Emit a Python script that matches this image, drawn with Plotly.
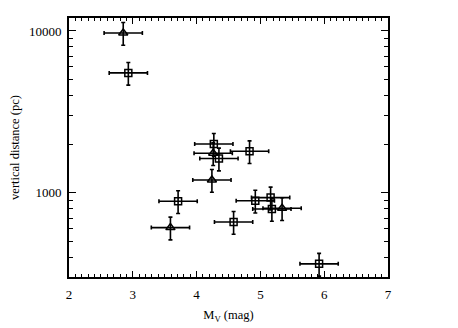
import plotly.graph_objects as go

# squares
sq_mv = [2.93, 4.27, 4.35, 4.83, 4.92, 5.16, 5.18, 4.58, 5.92, 3.71]
sq_z = [5510, 2005, 1630, 1808, 895, 936, 796, 662, 365, 889]

# triangles
tr_mv = [2.85, 4.24, 3.59, 4.26, 5.34]
tr_z = [9720, 1202, 611, 1757, 805]

mv_err = 0.3
z_err_pct = 16

y_ticks = [1000, 10000]
y_minor = [400, 500, 600, 700, 800, 900, 2000, 3000, 4000, 5000, 6000, 7000, 8000, 9000]

ebx = dict(type="constant", value=mv_err, color="black", thickness=1.6, width=2)
eby = dict(type="percent", value=z_err_pct, color="black", thickness=1.6, width=2)

fig = go.Figure()
fig.add_trace(go.Scatter(x=sq_mv, y=sq_z, mode="markers",
                         marker=dict(symbol="square-open", size=7, color="black",
                                     line=dict(width=1.5, color="black")),
                         error_x=ebx, error_y=eby))
fig.add_trace(go.Scatter(x=tr_mv, y=tr_z, mode="markers",
                         marker=dict(symbol="triangle-up-open", size=8, color="black",
                                     line=dict(width=1.5, color="black")),
                         error_x=ebx, error_y=eby))

font = dict(family="Liberation Serif, Times New Roman, serif", size=12.5, color="black")
tfont = dict(family="Liberation Serif, Times New Roman, serif", size=13, color="black")

# page body has an 8px margin, so margins are shifted to compensate
fig.update_layout(
    width=458, height=328,
    margin=dict(l=61, r=78, t=10, b=59),
    paper_bgcolor="white", plot_bgcolor="white",
    showlegend=False,
    font=font,
)
fig.update_xaxes(
    range=[2, 7], dtick=1, tick0=2, showgrid=False, zeroline=False, automargin=False,
    showline=True, linecolor="black", linewidth=1.6, mirror="ticks",
    ticks="inside", ticklen=6, tickwidth=1.3, tickcolor="black",
    minor=dict(dtick=0.1, ticks="inside", ticklen=3, tickwidth=1, tickcolor="black", showgrid=False),
    title=dict(text="M<sub>V</sub> (mag)", standoff=9, font=font),
    tickfont=tfont, ticklabelstandoff=5,
)
fig.update_yaxes(
    type="log", range=[2.481, 4.080], tickvals=y_ticks, ticktext=["1000", "10000"],
    showgrid=False, zeroline=False, automargin=False,
    showline=True, linecolor="black", linewidth=1.6, mirror="ticks",
    ticks="inside", ticklen=7, tickwidth=1.3, tickcolor="black",
    minor=dict(tickvals=y_minor, ticks="inside", ticklen=4, tickwidth=1, tickcolor="black", showgrid=False),
    title=dict(text="vertical distance (pc)", standoff=8, font=font),
    tickfont=tfont, ticklabelstandoff=3,
)

fig.write_html("out.html")
